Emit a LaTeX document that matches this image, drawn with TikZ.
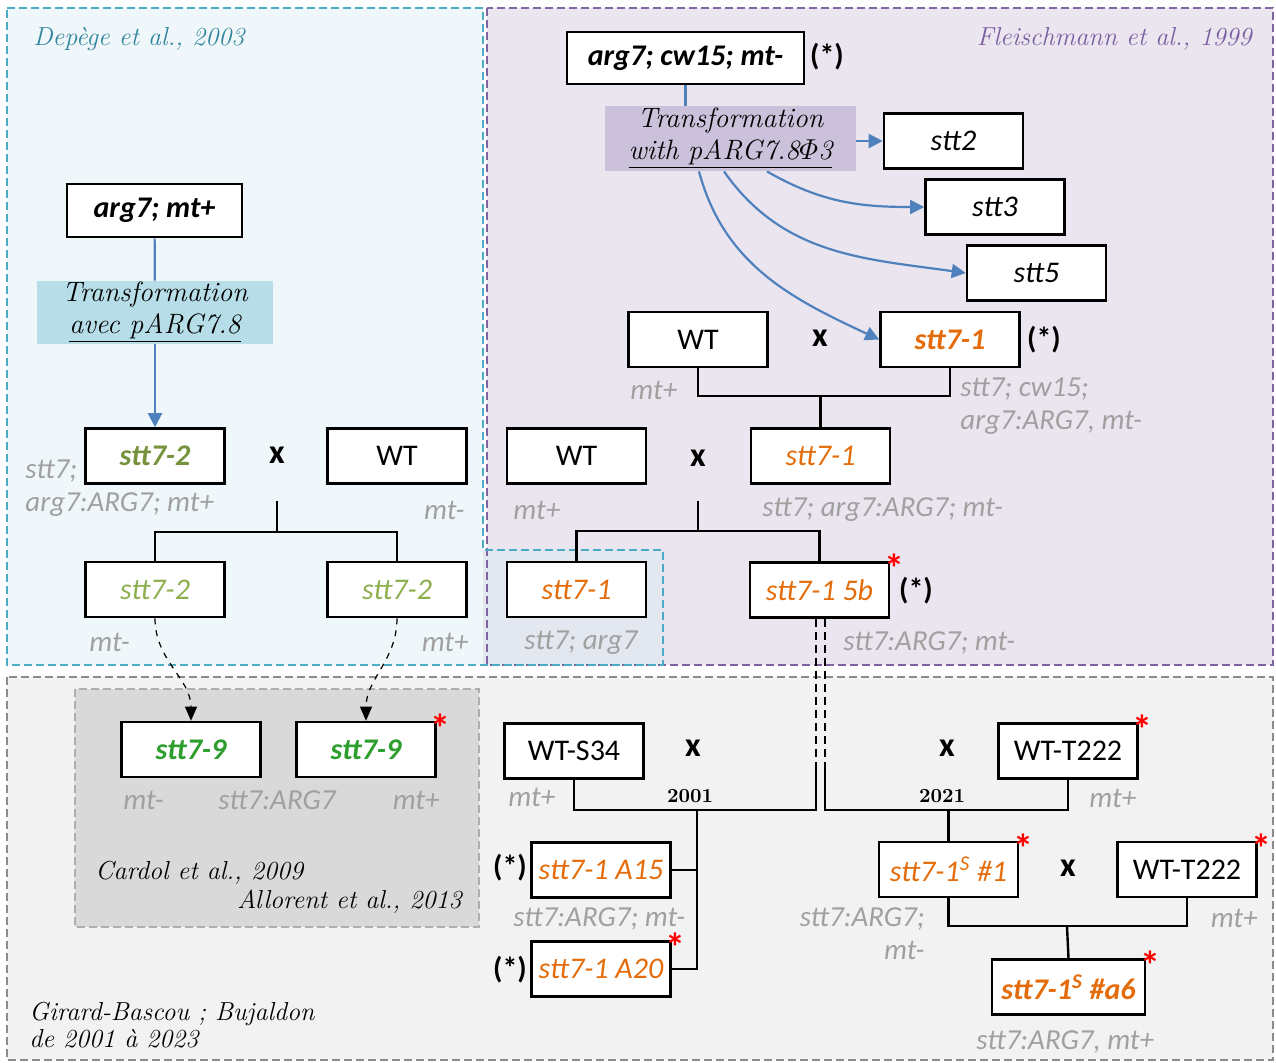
\documentclass[tikz,border=0pt]{standalone}
\usepackage{fontspec}
\setsansfont{Carlito}
\usepackage{tikz}
\usetikzlibrary{arrows.meta}

\definecolor{bluebg}{HTML}{EFF7FA}
\definecolor{purplebg}{HTML}{EBE5F0}
\definecolor{mixbg}{HTML}{E3E7EF}
\definecolor{greybg}{HTML}{F2F2F2}
\definecolor{cardolbg}{HTML}{D9D9D9}
\definecolor{bluebd}{HTML}{4BACC6}
\definecolor{purplebd}{HTML}{8064A2}
\definecolor{greybd}{HTML}{8C8C8C}
\definecolor{tealtxt}{HTML}{31859C}
\definecolor{purpletxt}{HTML}{7A5FA0}
\definecolor{trblue}{HTML}{B7DEE8}
\definecolor{trpurple}{HTML}{CCC1DA}
\definecolor{arrowblue}{HTML}{4F81BD}
\definecolor{mutorange}{HTML}{E46C0A}
\definecolor{oliveA}{HTML}{76923C}
\definecolor{oliveB}{HTML}{8DAF4E}
\definecolor{greenA}{HTML}{2E9E2E}
\definecolor{genogrey}{HTML}{A0A0A0}

\tikzset{
  strain/.style={draw, line width=1.3pt, fill=white, minimum width=69.5pt,
    minimum height=27.5pt, inner sep=1pt, font=\sffamily\itshape\fontsize{15}{18}\selectfont},
  parent/.style={strain, font=\sffamily\bfseries\itshape\fontsize{15}{18}\selectfont},
  wildtype/.style={strain, font=\sffamily\fontsize{15}{18}\selectfont},
  transfo/.style={align=center, inner sep=0pt, font=\itshape\fontsize{14}{16}\selectfont},
  geno/.style={text=genogrey, inner sep=0pt, font=\sffamily\itshape\fontsize{14.5}{16.5}\selectfont},
  crossx/.style={inner sep=0pt, font=\sffamily\bfseries\fontsize{17}{17}\selectfont},
  starred/.style={inner sep=0pt, font=\sffamily\bfseries\fontsize{15}{15}\selectfont},
  redast/.style={text=red, inner sep=0pt, font=\sffamily\bfseries\fontsize{20}{20}\selectfont},
  ref/.style={inner sep=0pt, font=\itshape\fontsize{13}{13.5}\selectfont},
  year/.style={inner sep=0pt, font=\bfseries\fontsize{10}{12}\selectfont},
  link/.style={line width=1.2pt},
  blink/.style={draw=arrowblue, line width=1.1pt},
  barrow/.style={blink, -{Triangle[length=7pt,width=7pt]}},
  darrow/.style={dashed, line width=0.6pt, -{Triangle[length=7pt,width=6pt]}},
  region/.style={line width=1pt, dash pattern=on 4pt off 2pt},
}

\begin{document}
\begin{tikzpicture}[x=0.5pt,y=-0.5pt]
  \useasboundingbox (0,0) rectangle (1276,1062);

  % regions
  \fill[purplebg] (487,8) rectangle (1273,665);
  \fill[bluebg] (7,8) rectangle (483,665);
  \fill[mixbg] (483,550) rectangle (663,665);
  \draw[region, purplebd] (487,8) rectangle (1273,665);
  \draw[region, bluebd] (7,8) -- (483,8) -- (483,550) -- (663,550) -- (663,665) -- (7,665) -- cycle;
  \filldraw[region, greybd, fill=greybg] (7,677) rectangle (1273,1060);
  \filldraw[region, greybd!70, fill=cardolbg] (75,689) rectangle (479,927);

  \node[ref, anchor=west, text=tealtxt] (tDep) at (33,39) {Depège et al., 2003};
  \node[ref, anchor=east, text=purpletxt] (tFle) at (1252,39) {Fleischmann et al., 1999};
  \node[ref, anchor=west] (tCar) at (95,873) {Cardol et al., 2009};
  \node[ref, anchor=east] (tAll) at (462,902) {Allorent et al., 2013};
  \node[ref, anchor=west, align=left] (tGir) at (29,1025) {Girard-Bascou ; Bujaldon\\de 2001 à 2023};

  % Depege et al.
  \node[parent, minimum width=87.5pt, minimum height=26.5pt] (argA) at (154.5,210.5) {arg7; mt+};
  \node[transfo, fill=trblue, minimum width=118pt, minimum height=31.5pt] (trA) at (155,312.5)
    {Transformation\\\underline{avec pARG7.8}};
  \node[parent, text=oliveA] (s72) at (155,456) {stt7-2};
  \node[crossx] (xA) at (277,455) {x};
  \node[wildtype] (wtA) at (397,456) {WT};
  \node[geno, anchor=west, align=left] (gA) at (25,488.5) {stt7;\\arg7:ARG7; mt+};
  \node[geno, anchor=east] (gAm) at (465,510) {mt-};
  \node[strain, text=oliveB] (s72a) at (155,589.5) {stt7-2};
  \node[strain, text=oliveB] (s72b) at (397,589.5) {stt7-2};
  \node[geno, anchor=west] (g72a) at (89,642) {mt-};
  \node[geno, anchor=east] (g72b) at (469,642) {mt+};

  % Cardol et al.
  \node[parent, text=greenA] (s79a) at (191,749.5) {stt7-9};
  \node[parent, text=greenA] (s79b) at (366,749.5) {stt7-9};
  \node[geno, anchor=west] (g79a) at (123,800) {mt-};
  \node[geno, anchor=west] (g79) at (218,800) {stt7:ARG7};
  \node[geno, anchor=east] (g79b) at (440,800) {mt+};

  % Fleischmann et al.
  \node[parent, minimum width=118.5pt, minimum height=26pt] (argB) at (685.5,58) {arg7; cw15; mt-};
  \node[starred] (fB) at (827,57) {(*)};
  \node[transfo, fill=trpurple, minimum width=125.5pt, minimum height=32.5pt] (trB) at (730.5,138.5)
    {Transformation\\\underline{with pARG7.8$\mathnormal{\Phi}$3}};
  \node[strain] (stt2) at (953.5,141) {stt2};
  \node[strain] (stt3) at (995,207) {stt3};
  \node[strain] (stt5) at (1036.5,273) {stt5};
  \node[wildtype] (wtB) at (698,339.5) {WT};
  \node[crossx] (xB) at (820,338) {x};
  \node[parent, text=mutorange] (s71) at (950,339.5) {stt7-1};
  \node[starred] (f71) at (1044,340) {(*)};
  \node[geno, anchor=west] (gBp) at (630,390) {mt+};
  \node[geno, anchor=west, align=left] (g71) at (960,406) {stt7; cw15;\\arg7:ARG7, mt-};
  \node[wildtype] (wtC) at (576.5,456) {WT};
  \node[crossx] (xC) at (698,458) {x};
  \node[strain, text=mutorange] (s71b) at (820.5,456) {stt7-1};
  \node[geno, anchor=west] (gCp) at (513,510) {mt+};
  \node[geno, anchor=west] (gC) at (762,510) {stt7; arg7:ARG7; mt-};
  \node[strain, text=mutorange] (s71c) at (576.5,589.5) {stt7-1};
  \node[strain, text=mutorange] (s715b) at (819.5,590) {stt7-1 5b};
  \node[starred] (f5b) at (916,591) {(*)};
  \node[geno, anchor=west] (g71c) at (524,643) {stt7; arg7};
  \node[geno, anchor=west] (g5b) at (843,643) {stt7:ARG7; mt-};

  % Girard-Bascou ; Bujaldon
  \node[wildtype] (wtS) at (574,751) {WT-S34};
  \node[crossx] (xS) at (693,748) {x};
  \node[geno, anchor=west] (gSp) at (508,797) {mt+};
  \node[year] (y2001) at (690,796) {2001};
  \node[strain, text=mutorange] (a15) at (601,870) {stt7-1 A15};
  \node[starred] (fa15) at (510,868) {(*)};
  \node[geno, anchor=west] (ga15) at (513,919) {stt7:ARG7; mt-};
  \node[strain, text=mutorange] (a20) at (601,969) {stt7-1 A20};
  \node[starred] (fa20) at (510,970) {(*)};
  \node[crossx] (xT) at (947,748) {x};
  \node[wildtype] (wtT) at (1068,751) {WT-T222};
  \node[year] (y2021) at (942,796) {2021};
  \node[geno, anchor=west] (gTp) at (1089,798) {mt+};
  \node[strain, text=mutorange] (s1s1) at (948.5,869.5) {stt7-1\textsuperscript{S} \#1};
  \node[crossx] (xD) at (1068,868) {x};
  \node[wildtype] (wtT2) at (1187,869.5) {WT-T222};
  \node[geno, anchor=east, align=right] (gs1) at (925,933.5) {stt7:ARG7;\\mt-};
  \node[geno, anchor=east] (gT2p) at (1258,918) {mt+};
  \node[parent, text=mutorange, minimum width=76.5pt] (sa6) at (1068.5,987) {stt7-1\textsuperscript{S} \#a6};
  \node[geno, anchor=west] (ga6) at (976,1042) {stt7:ARG7, mt+};

  \foreach \n in {s79b,s715b,a20,wtT,s1s1,wtT2,sa6}
    \node[redast] (ast-\n) at ([xshift=2pt,yshift=-3.5pt]\n.north east) {*};

  % transformations
  \draw[blink] (argA) -- (trA);
  \draw[barrow] (trA) -- (s72);
  \draw[blink] (argB.south) -- (argB.south |- trB.north);
  \draw[barrow] (trB.east |- stt2.west) -- (stt2.west);
  \draw[barrow] ([xshift=18.25pt]trB.south) to[out=-30,in=180] (stt3.west);
  \draw[barrow] ([xshift=-3.25pt]trB.south) to[out=-55,in=172] (stt5.west);
  \draw[barrow] ([xshift=-15.75pt]trB.south) to[out=-75,in=155] (s71.west);

  % crosses
  \coordinate (tA) at (277,501);
  \coordinate (jA) at (277,532);
  \draw[link] (tA) -- (jA);
  \draw[link] (s72a.north) |- (jA) -| (s72b.north);
  \draw[darrow] (s72a.south) to[out=-90,in=90] (s79a.north);
  \draw[darrow] (s72b.south) to[out=-90,in=90] (s79b.north);

  \coordinate (jB) at (820.5,396);
  \draw[link] (wtB.south) |- (jB) -| (s71.south);
  \draw[link] (jB) -- (s71b.north);

  \coordinate (tC) at (698,501);
  \coordinate (jC) at (698,531);
  \draw[link] (tC) -- (jC);
  \draw[link] (s71c.north) |- (jC) -| (s715b.north);

  \coordinate (d1) at (816,770);
  \coordinate (d2) at (825,770);
  \coordinate (k1) at (816,810);
  \coordinate (k2) at (825,810);
  \draw[link, line width=1.4pt, dash pattern=on 4pt off 2.5pt] (d1 |- s715b.south) -- (d1);
  \draw[link, line width=1.4pt, dash pattern=on 4pt off 2.5pt] (d2 |- s715b.south) -- (d2);
  \draw[link] (d1) -- (k1) -| (wtS.south);
  \draw[link] (d2) -- (k2) -| (wtT.south);

  \coordinate (m1) at (697,810);
  \draw[link] (m1) |- (a20.east);
  \draw[link] (a15.east) -- (a15.east -| m1);
  \draw[link] (s1s1.north) -- (s1s1.north |- k2);

  \coordinate (jD) at (1067,926);
  \draw[link] (s1s1.south) |- (jD) -| (wtT2.south);
  \draw[link] (jD) -- (sa6.north);
\end{tikzpicture}
\end{document}
